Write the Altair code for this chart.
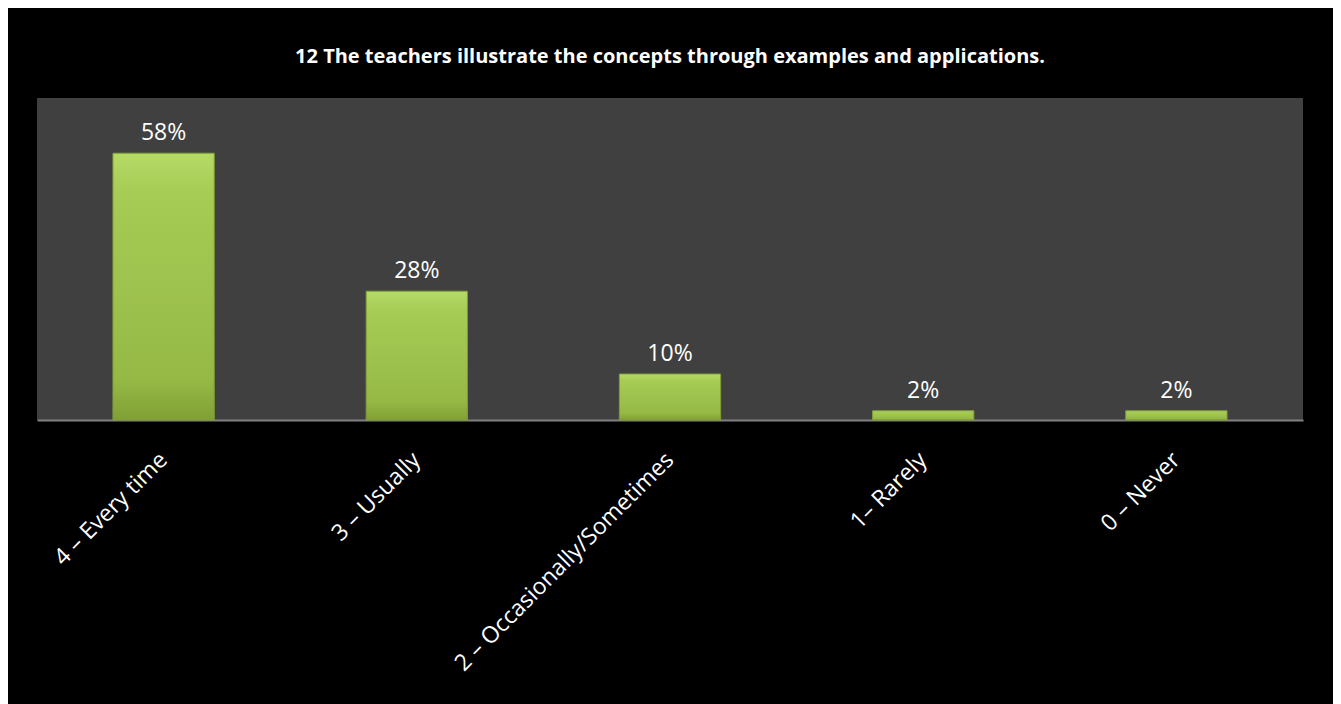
import altair as alt
import pandas as pd

categories = ["4 – Every time", "3 – Usually", "2 – Occasionally/Sometimes", "1– Rarely", "0 – Never"]
values = [0.58, 0.28, 0.10, 0.02, 0.02]
labels = ["58%", "28%", "10%", "2%", "2%"]

df = pd.DataFrame({"category": categories, "value": values, "label": labels})

x = alt.X("category:N", sort=categories, title=None,
          scale=alt.Scale(paddingInner=0.6, paddingOuter=0.3),
          axis=alt.Axis(labelAngle=-45, labelAlign="right", labelBaseline="middle",
                        labelColor="white", labelFont="Open Sans", labelFontSize=23,
                        labelPadding=36, ticks=False, domainColor="#808080", domainWidth=2,
                        labelLimit=0))
y = alt.Y("value:Q", scale=alt.Scale(domain=[0, 0.7], nice=False), axis=None)

bars = alt.Chart(df).mark_bar(
    color=alt.Gradient(gradient="linear", x1=0, x2=0, y1=0, y2=1,
                       stops=[alt.GradientStop(color="#b6da66", offset=0),
                              alt.GradientStop(color="#a6cc55", offset=0.15),
                              alt.GradientStop(color="#96b946", offset=0.85),
                              alt.GradientStop(color="#80a034", offset=1)]),
    stroke="#7f9e34", strokeWidth=1
).encode(x=x, y=y)

text = alt.Chart(df).mark_text(
    baseline="bottom", dy=-8, color="white", font="Open Sans", fontSize=23
).encode(x=x, y=y, text="label:N")

chart = (bars + text).properties(
    width=1266, height=322,
    background="black",
    padding={"left": 29, "top": 90, "right": 30, "bottom": 290},
    autosize=alt.AutoSizeParams(type="none"),
    title=alt.TitleParams(
        "12 The teachers illustrate the concepts through examples and applications.",
        color="white", font="Open Sans", fontSize=20, fontWeight="bold",
        anchor="middle", offset=31),
).configure_view(fill="#404040", stroke=None)

chart.save("out.html", embed_options={"renderer": "svg", "actions": False})
